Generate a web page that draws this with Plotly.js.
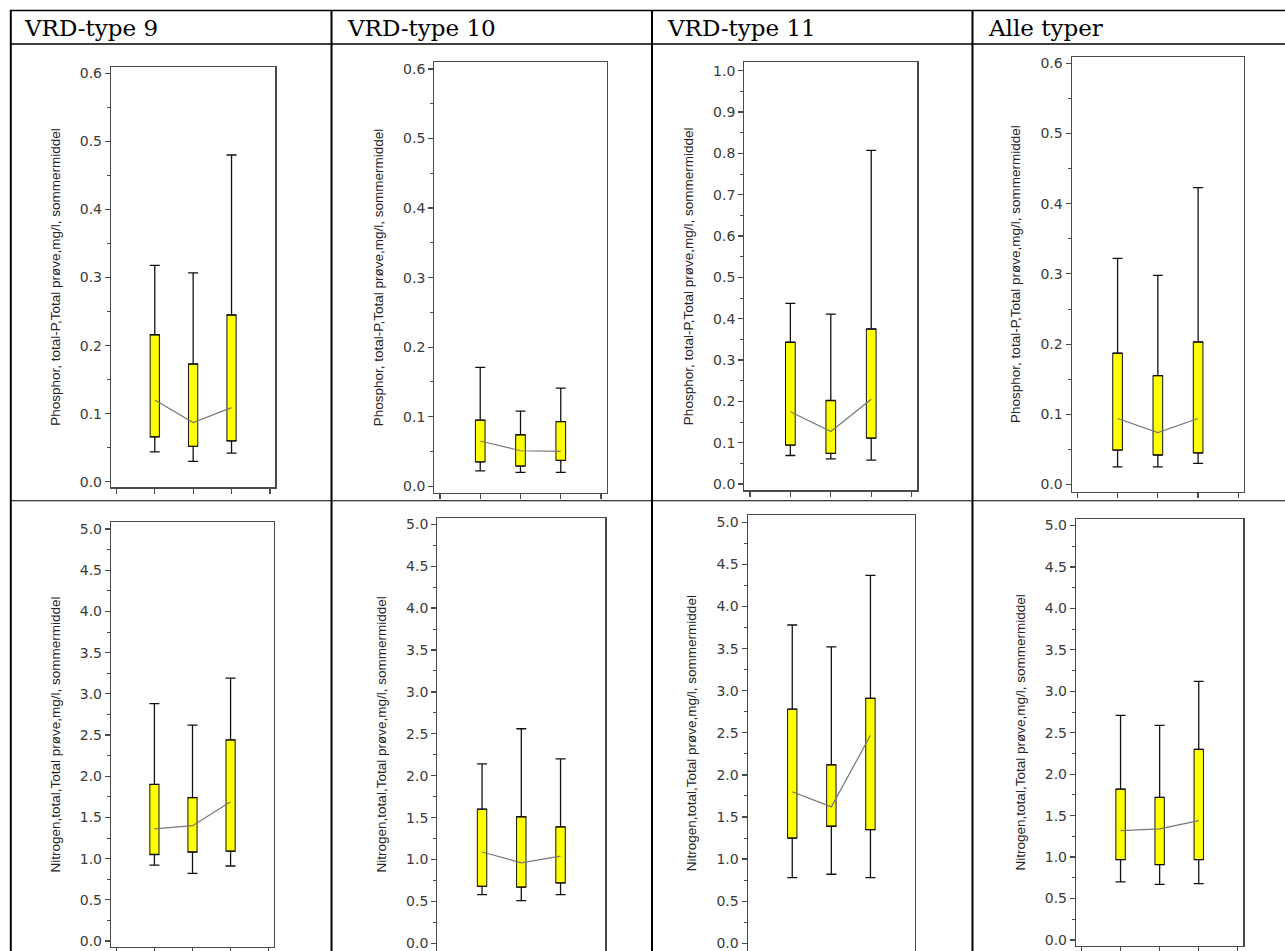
<!DOCTYPE html>
<html><head><meta charset="utf-8">
<script src="https://cdn.plot.ly/plotly-3.0.1.min.js"></script>
<style>html,body{margin:0;padding:0;background:#fff}</style>
</head><body>
<div id="chart" style="width:1285px;height:951px"></div>
<script>
// ---------- data ----------
const groups = [1, 2, 3];
const headers = ["VRD-type 9", "VRD-type 10", "VRD-type 11", "Alle typer"];
const titleP = "Phosphor, total-P,Total prøve,mg/l, sommermiddel";
const titleN = "Nitrogen,total,Total prøve,mg/l, sommermiddel";
const xTickVals = [0, 1, 2, 3, 4];

// Phosphor, VRD-type 9
const p9_upper  = [0.318, 0.307, 0.480];
const p9_q3     = [0.216, 0.173, 0.245];
const p9_median = [0.120, 0.087, 0.109];
const p9_q1     = [0.066, 0.052, 0.060];
const p9_lower  = [0.044, 0.030, 0.042];
// Phosphor, VRD-type 10
const p10_upper  = [0.171, 0.108, 0.141];
const p10_q3     = [0.095, 0.074, 0.093];
const p10_median = [0.065, 0.051, 0.050];
const p10_q1     = [0.035, 0.029, 0.037];
const p10_lower  = [0.022, 0.020, 0.020];
// Phosphor, VRD-type 11
const p11_upper  = [0.437, 0.411, 0.807];
const p11_q3     = [0.343, 0.202, 0.375];
const p11_median = [0.175, 0.127, 0.205];
const p11_q1     = [0.094, 0.074, 0.111];
const p11_lower  = [0.069, 0.061, 0.058];
// Phosphor, alle typer
const pall_upper  = [0.322, 0.298, 0.423];
const pall_q3     = [0.187, 0.155, 0.203];
const pall_median = [0.094, 0.074, 0.094];
const pall_q1     = [0.049, 0.042, 0.045];
const pall_lower  = [0.025, 0.025, 0.030];
// Nitrogen, VRD-type 9
const n9_upper  = [2.88, 2.62, 3.19];
const n9_q3     = [1.90, 1.74, 2.44];
const n9_median = [1.36, 1.40, 1.69];
const n9_q1     = [1.05, 1.08, 1.09];
const n9_lower  = [0.92, 0.82, 0.91];
// Nitrogen, VRD-type 10
const n10_upper  = [2.14, 2.56, 2.20];
const n10_q3     = [1.60, 1.51, 1.39];
const n10_median = [1.09, 0.96, 1.04];
const n10_q1     = [0.68, 0.67, 0.72];
const n10_lower  = [0.58, 0.51, 0.58];
// Nitrogen, VRD-type 11
const n11_upper  = [3.78, 3.52, 4.37];
const n11_q3     = [2.78, 2.12, 2.91];
const n11_median = [1.80, 1.62, 2.47];
const n11_q1     = [1.25, 1.39, 1.35];
const n11_lower  = [0.78, 0.82, 0.78];
// Nitrogen, alle typer
const nall_upper  = [2.71, 2.59, 3.12];
const nall_q3     = [1.82, 1.72, 2.30];
const nall_median = [1.32, 1.34, 1.44];
const nall_q1     = [0.97, 0.91, 0.97];
const nall_lower  = [0.70, 0.67, 0.68];

const series = [
  {upper: p9_upper,  q3: p9_q3,  median: p9_median,  q1: p9_q1,  lower: p9_lower,  title: titleP},
  {upper: p10_upper, q3: p10_q3, median: p10_median, q1: p10_q1, lower: p10_lower, title: titleP},
  {upper: p11_upper, q3: p11_q3, median: p11_median, q1: p11_q1, lower: p11_lower, title: titleP},
  {upper: pall_upper, q3: pall_q3, median: pall_median, q1: pall_q1, lower: pall_lower, title: titleP},
  {upper: n9_upper,  q3: n9_q3,  median: n9_median,  q1: n9_q1,  lower: n9_lower,  title: titleN},
  {upper: n10_upper, q3: n10_q3, median: n10_median, q1: n10_q1, lower: n10_lower, title: titleN},
  {upper: n11_upper, q3: n11_q3, median: n11_median, q1: n11_q1, lower: n11_lower, title: titleN},
  {upper: nall_upper, q3: nall_q3, median: nall_median, q1: nall_q1, lower: nall_lower, title: titleN}
];

// ---------- layout geometry (pixels) ----------
const W = 1285, H = 951;
const frames = [
  {l: 111,    r: 275.3,  t: 66.7,  b: 487.3, zero: 481.8, ppu: 680.8, dtick: 0.1, minor: 0.05},
  {l: 434.3,  r: 606.7,  t: 62.3,  b: 492.7, zero: 486.2, ppu: 695.3, dtick: 0.1, minor: 0.05},
  {l: 744.3,  r: 917.3,  t: 62.3,  b: 490.3, zero: 484.0, ppu: 413.3, dtick: 0.1, minor: 0.05},
  {l: 1071.7, r: 1244,   t: 56.7,  b: 491.5, zero: 484.5, ppu: 702.0, dtick: 0.1, minor: 0.05},
  {l: 111,    r: 274,    t: 522.3, b: 946.7, zero: 941.0, ppu: 82.4,  dtick: 0.5, minor: 0.25},
  {l: 437.3,  r: 605.3,  t: 517.7, b: 951,   zero: 943.3, ppu: 83.8,  dtick: 0.5, minor: 0.25},
  {l: 747.7,  r: 915,    t: 515.3, b: 951,   zero: 943.3, ppu: 84.2,  dtick: 0.5, minor: 0.25},
  {l: 1076,   r: 1243.3, t: 518.7, b: 946,   zero: 940.0, ppu: 82.9,  dtick: 0.5, minor: 0.25}
];
const px = v => v / W;
const py = v => 1 - v / H;

const frameColor = '#4a4a4a';
const traces = [];
const layout = {
  width: W, height: H,
  margin: {l: 0, r: 0, t: 0, b: 0, pad: 0},
  paper_bgcolor: '#fff', plot_bgcolor: '#fff',
  showlegend: false,
  bargap: 0,
  shapes: [], annotations: []
};

series.forEach((s, i) => {
  const n = i + 1;
  const xa = 'x' + n, ya = 'y' + n;
  const f = frames[i];
  traces.push({
    type: 'bar', x: groups, base: s.q1,
    y: s.q3.map((v, k) => v - s.q1[k]),
    width: 0.24, xaxis: xa, yaxis: ya,
    marker: {color: '#ffff00', line: {color: '#111', width: 1}},
    hoverinfo: 'skip'
  });
  traces.push({
    type: 'scatter', mode: 'markers',
    x: groups.concat(groups), y: s.q3.concat(s.q1),
    xaxis: xa, yaxis: ya,
    marker: {size: 1, color: 'rgba(0,0,0,0)'},
    error_y: {type: 'data', symmetric: false,
      array: s.upper.map((v, k) => v - s.q3[k]).concat([0, 0, 0]),
      arrayminus: [0, 0, 0].concat(s.q1.map((v, k) => v - s.lower[k])),
      width: 5, thickness: 1.3, color: '#111'},
    hoverinfo: 'skip'
  });
  traces.push({
    type: 'scatter', mode: 'lines', x: groups, y: s.median,
    xaxis: xa, yaxis: ya,
    line: {color: '#777', width: 1.2}, hoverinfo: 'skip'
  });
  const sfx = n === 1 ? '' : n;
  layout['xaxis' + sfx] = {
    domain: [px(f.l), px(f.r)], anchor: ya,
    range: [-0.14, 4.14], tickvals: xTickVals,
    showticklabels: false, ticks: 'outside', ticklen: 5, tickwidth: 1.3, tickcolor: frameColor,
    showline: true, mirror: true, linecolor: frameColor, linewidth: 1.2,
    showgrid: false, zeroline: false, fixedrange: true
  };
  layout['yaxis' + sfx] = {
    domain: [py(f.b), py(f.t)], anchor: xa,
    range: [(f.zero - f.b) / f.ppu, (f.zero - f.t) / f.ppu],
    tick0: 0, dtick: f.dtick, tickformat: '.1f',
    ticks: 'outside', ticklen: 5, tickwidth: 1.2, tickcolor: frameColor,
    minor: {dtick: f.minor, ticks: 'outside', ticklen: 3, tickwidth: 1, tickcolor: frameColor, showgrid: false},
    tickfont: {family: 'DejaVu Sans', size: 14, color: '#3a3a3a'},
    ticklabeloverflow: 'allow',
    showline: true, mirror: true, linecolor: frameColor, linewidth: 1.2,
    showgrid: false, zeroline: false, fixedrange: true,
    title: {text: s.title, standoff: 16, font: {family: 'Liberation Sans', size: 13.5, color: '#222'}}
  };
});

// table lines
const lineStyle = {color: '#000', width: 1.6};
const hLines = [10.5, 44];
hLines.forEach(y => layout.shapes.push({type: 'line', xref: 'paper', yref: 'paper',
  x0: px(10), x1: 1, y0: py(y), y1: py(y), line: lineStyle, layer: 'above'}));
layout.shapes.push({type: 'line', xref: 'paper', yref: 'paper',
  x0: px(10), x1: 1, y0: py(500.7), y1: py(500.7), line: {color: '#000', width: 1.1}, layer: 'above'});
[10.8, 331.5, 652, 972.5].forEach(x => layout.shapes.push({type: 'line', xref: 'paper', yref: 'paper',
  x0: px(x), x1: px(x), y0: py(10), y1: 0, line: {color: '#000', width: 2}, layer: 'above'}));

// header texts
const headerX = [22, 345, 665, 986];
headers.forEach((h, i) => layout.annotations.push({
  text: h, xref: 'paper', yref: 'paper', x: px(headerX[i]), y: py(28),
  xanchor: 'left', yanchor: 'middle', showarrow: false,
  font: {family: 'DejaVu Serif', size: 23, color: '#000'}
}));

Plotly.newPlot('chart', traces, layout, {displayModeBar: false, staticPlot: true});
</script>
</body></html>
